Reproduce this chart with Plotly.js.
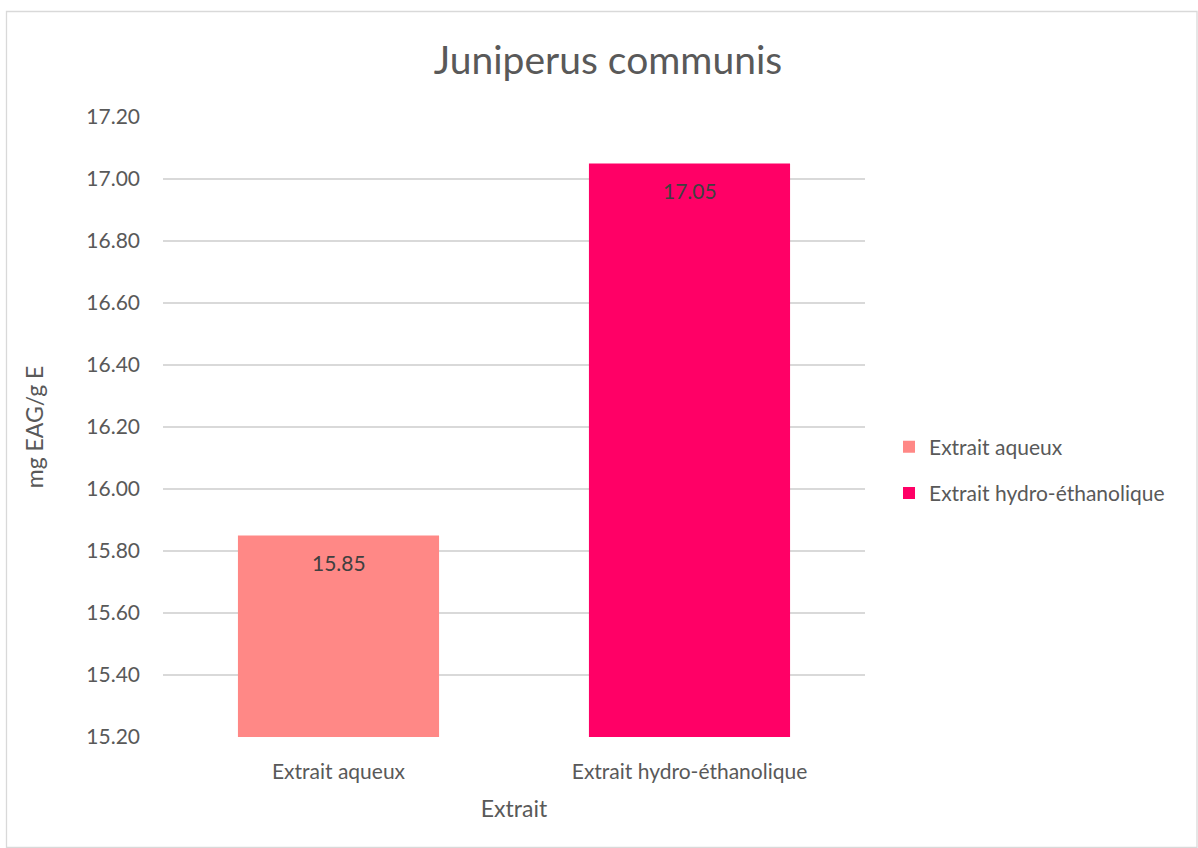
<!DOCTYPE html>
<html><head><meta charset="utf-8">
<script src="https://cdn.plot.ly/plotly-3.0.1.min.js"></script>
<style>html,body{margin:0;padding:0;background:#fff;}#chart{width:1198px;height:848px;}</style>
</head><body><div id="chart"></div>
<script>
const categories = ["Extrait aqueux", "Extrait hydro-éthanolique"];
const values = [15.85, 17.05];
const labels = ["15.85", "17.05"];
const colors = ["#FF8886", "#FF0066"];
const yTicks = [15.2, 15.4, 15.6, 15.8, 16.0, 16.2, 16.4, 16.6, 16.8, 17.0, 17.2];

const W = 1198, H = 848;
const m = {l: 163, r: 333, t: 117, b: 111};
const pw = W - m.l - m.r, ph = H - m.t - m.b;
const px = x => (x - m.l) / pw;
const py = y => (H - m.b - y) / ph;

const font = "Lato, 'Open Sans', sans-serif";
const traces = categories.map((c, i) => ({
  type: 'bar', x: [c], y: [values[i]], name: c,
  marker: {color: colors[i]},
  textposition: 'none',
  legendgroup: 'g' + i,
  hoverinfo: 'x+y'
}));

const annotations = categories.map((c, i) => ({
  x: c, y: values[i], xref: 'x', yref: 'y',
  text: labels[i], showarrow: false, yanchor: 'middle', yshift: -27,
  font: {family: font, size: 21, color: '#404040'}
}));

const layout = {
  width: W, height: H,
  margin: m,
  paper_bgcolor: '#fff', plot_bgcolor: '#fff',
  font: {family: font, color: '#595959', size: 21},
  barmode: 'overlay', bargap: 0.427,
  title: {text: 'Juniperus communis', font: {size: 39, color: '#595959', family: font}, x: 608 / W, xanchor: 'center', y: 1 - 60 / H, yanchor: 'middle'},
  xaxis: {
    title: {text: 'Extrait', font: {size: 23, color: '#595959'}, standoff: 18},
    showgrid: false, zeroline: false, showline: false, ticks: '',
    ticklabelstandoff: 20,
    tickfont: {size: 21, color: '#595959'}
  },
  yaxis: {
    title: {text: 'mg EAG/g E', font: {size: 23, color: '#595959'}, standoff: 36},
    range: [15.2, 17.2], tickvals: yTicks, tickformat: '.2f',
    showgrid: true, gridcolor: '#D9D9D9', gridwidth: 1.3,
    zeroline: false, showline: false, ticks: '',
    ticklabelstandoff: 22,
    tickfont: {size: 21, color: '#595959'}
  },
  legend: {
    x: px(889), y: py(470), xanchor: 'left', yanchor: 'middle',
    font: {size: 21, color: '#595959'},
    traceorder: 'grouped', tracegroupgap: 16,
    itemwidth: 30, bgcolor: 'rgba(0,0,0,0)'
  },
  annotations: annotations,
  shapes: [{
    type: 'rect', xref: 'paper', yref: 'paper', layer: 'below',
    x0: px(6.5), x1: px(1197), y0: py(847.5), y1: py(11.5),
    line: {color: '#D9D9D9', width: 1.3}, fillcolor: 'rgba(0,0,0,0)'
  }]
};

Plotly.newPlot('chart', traces, layout, {displayModeBar: false, staticPlot: true});
</script></body></html>
